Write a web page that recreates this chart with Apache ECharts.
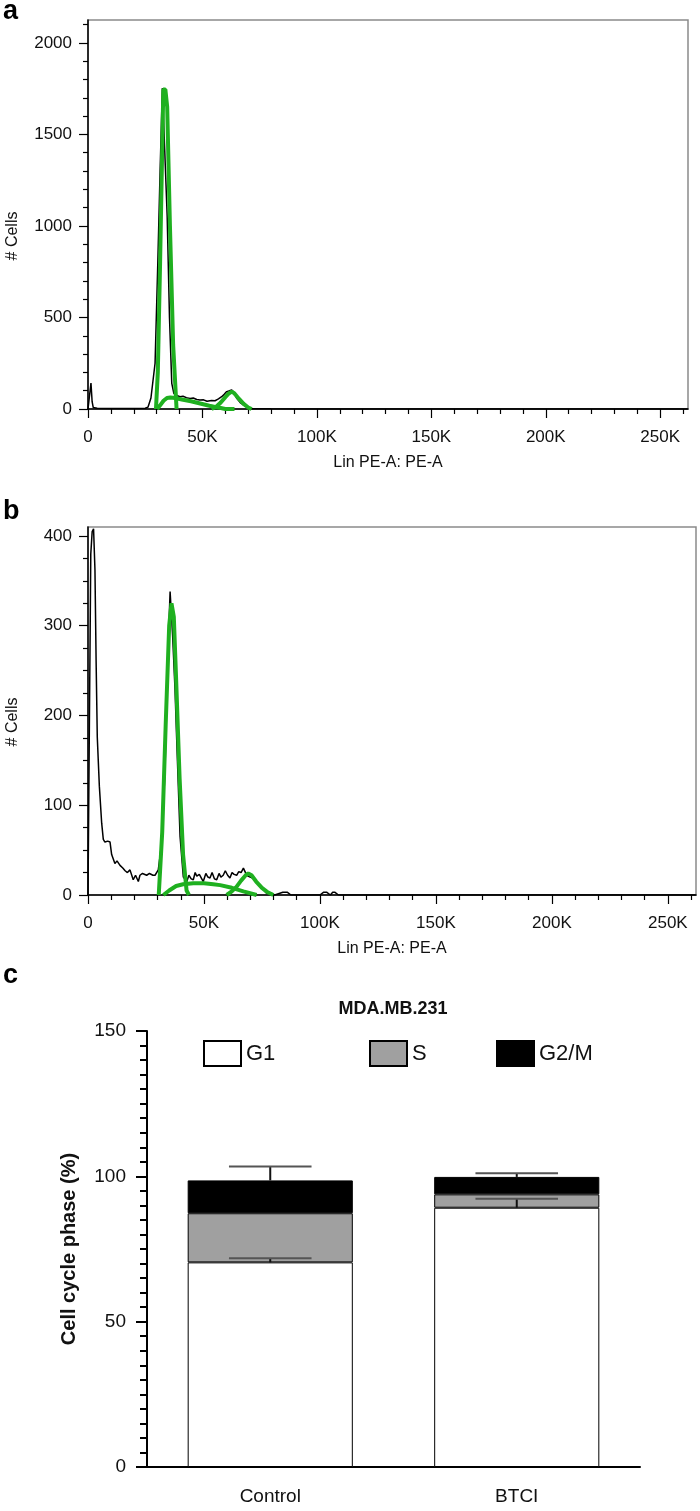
<!DOCTYPE html>
<html><head><meta charset="utf-8">
<script src="https://cdn.jsdelivr.net/npm/echarts@6/dist/echarts.min.js"></script>
<style>html,body{margin:0;padding:0;background:#fff}#c{width:700px;height:1511px}</style>
</head><body><div id="c"></div>
<script>
// ---------- Panel a (values in K for x) ----------
const aBlackX = [0,0.8,1.3,1.8,2.3,4,10,20,25,26.2,27.5,29.3,30.5,31.5,32.5,33.5,34.6,35.6,36.6,37.5,38.5,40.2,41.5,43,44.6,46,47.5,48.9,50.5,52,52.6,54,55.5,57,58.4,59.5,60.6,61.5,62.8,63.8,65,66.5,67.9,69.5,70.8,72,80,100,150,262];
const aBlackY = [0,0,142,40,8,4,3,3,4,10,60,250,800,1300,1754,1420,1050,500,140,85,76,67,70,62,58,60,52,49,50,42,40,46,45,55,67,80,95,98,104,90,58,35,22,10,4,2,1,0,0,0];
const aG1X = [29.7,30.5,31.5,32.9,33.8,34.6,35.8,37.2,38.7];
const aG1Y = [0,200,800,1745,1745,1650,1000,350,0];
const aSX = [30.2,31.5,33,34.5,36,38,41,45,49,53,56,58,60,64];
const aSY = [0,20,45,60,63,60,52,42,30,18,10,5,0,0];
const aG2X = [54,56,58,60,61.5,62.8,64,66,68,70,71.5];
const aG2Y = [0,12,35,65,85,95,85,55,28,8,0];

// ---------- Panel b ----------
const bBlackX = [0,0.8,1.2,1.8,2.4,3.0,3.5,4.0,4.9,5.9,6.6,7.3,8.5,9.5,10.2,11.6,12.5,13.8,15,16,17,18.1,19.5,20.5,21.7,22.4,23.5,25.3,26.5,28,28.9,30.3,31.8,33.2,34.2,35.4,36.5,37.5,38.2,39.7,41.1,42.6,43.5,44.5,45.4,46.2,46.9,48,49.7,50.8,51.7,52.6,53.5,54.5,55.5,56.5,57.3,58.3,59.2,60.2,61.2,62.1,63,64.1,65,66,67,67.7,68.4,69.2,69.9,71,72.7,74,75.6,77,79,80.5,84,86,87.5,100,101.5,103,104.5,105.5,106.5,108,262];
const bBlackY = [0,0,380,405,408,362,260,176,121,80,62,59,60,59,45,35,38,33,30,27,25,28,17,22,15,22,24,22,24,22,22,28,58,139,251,338,288,230,176,65,20,15,22,18,17,25,21,23,15,24,20,19,25,18,17,24,20,22,27,22,19,25,23,22,26,25,30,26,22,24,20,19,15,10,6,2,2,0,3,3,0,0,3,3,0,3,3,0,0];
const bG1X = [30.5,32,33.5,35,36,37,38,39.5,41,42.5,43.5];
const bG1Y = [0,70,190,300,325,310,240,130,45,5,0];
const bSX = [32.5,35,38,41,45.4,50,54,57,62,67,72.7];
const bSY = [0,5,10,12,13,13,12,11,8,4,0];
const bG2X = [59.8,62,64,66,68,69.1,70.5,72.5,75,77.5,79.9];
const bG2Y = [0,4,9,16,22,24,22,15,8,3,0];

// ---------- Ticks ----------
const xTicks = [0,50,100,150,200,250];
const xMinor = [10,20,30,40,60,70,80,90,110,120,130,140,160,170,180,190,210,220,230,240,260];
const aYTicks = [0,500,1000,1500,2000];
const aYMinor = [100,200,300,400,600,700,800,900,1100,1200,1300,1400,1600,1700,1800,1900,2100];
const bYTicks = [0,100,200,300,400];
const bYMinor = [25,50,75,125,150,175,225,250,275,325,350,375];

// ---------- Panel c ----------
const cats = ['Control','BTCI'];
const g1 = [70.4, 89.2];
const sPh = [16.9, 4.6];
const g2m = [11.3, 6.0];
const g1Err = [1.4, 3.1];
const g2mErr = [4.8, 1.3];

const FONT = '"Liberation Sans", Arial, Helvetica, sans-serif';
const zip = (xs, ys) => xs.map((x, i) => [x, ys[i]]);
const kfmt = v => v === 0 ? '0' : v + 'K';
const plain = v => String(v);

function histX(grid, max) {
  return [
    { gridIndex: grid, type: 'value', position: 'bottom', min: 0, max: max,
      axisLine: { show: true, onZero: false, lineStyle: { color: '#000', width: 1.5 } },
      axisTick: { show: true, length: 9, customValues: xTicks, lineStyle: { color: '#000', width: 1.2 } },
      axisLabel: { customValues: xTicks, formatter: kfmt, fontSize: 17, color: '#111', fontFamily: FONT, margin: 20 },
      splitLine: { show: false },
      name: 'Lin PE-A: PE-A', nameLocation: 'middle', nameGap: 46,
      nameTextStyle: { fontSize: 16, color: '#111', fontFamily: FONT } },
    { gridIndex: grid, type: 'value', position: 'bottom', min: 0, max: max,
      axisLine: { show: false },
      axisTick: { show: true, length: 5, customValues: xMinor, lineStyle: { color: '#000', width: 1.2 } },
      axisLabel: { show: false }, splitLine: { show: false } }
  ];
}
function histY(grid, max, ticks, minor) {
  return [
    { gridIndex: grid, type: 'value', position: 'left', min: 0, max: max,
      axisLine: { show: true, lineStyle: { color: '#000', width: 1.5 } },
      axisTick: { show: true, length: 9, customValues: ticks, lineStyle: { color: '#000', width: 1.2 } },
      axisLabel: { customValues: ticks, formatter: plain, fontSize: 17, color: '#111', fontFamily: FONT, margin: 16 },
      splitLine: { show: false } },
    { gridIndex: grid, type: 'value', position: 'left', min: 0, max: max,
      axisLine: { show: false },
      axisTick: { show: true, length: 5, customValues: minor, lineStyle: { color: '#000', width: 1.2 } },
      axisLabel: { show: false }, splitLine: { show: false } }
  ];
}
const lineS = (xi, yi, data, color, w, z) => ({
  type: 'line', xAxisIndex: xi, yAxisIndex: yi, data: data, symbol: 'none', showSymbol: false,
  lineStyle: { color: color, width: w }, itemStyle: { color: color }, clip: true, z: z, silent: true
});
const GREEN = '#1fb020';

const stackTop = g1.map((v, i) => v + sPh[i] + g2m[i]);
const errData = [];
cats.forEach((c, i) => { errData.push([i, g1[i], g1Err[i]]); });
cats.forEach((c, i) => { errData.push([i, stackTop[i], g2mErr[i]]); });

const legendBase = { itemWidth: 37, itemHeight: 25, selectedMode: false, icon: 'rect', top: 1035,
  textStyle: { fontSize: 22, color: '#111', fontFamily: FONT } };

const chart = echarts.init(document.getElementById('c'), null, { renderer: 'canvas' });
chart.setOption({
  animation: false,
  backgroundColor: '#fff',
  textStyle: { fontFamily: FONT },
  grid: [
    { left: 88, top: 20, width: 600, height: 389, show: true, borderColor: '#8a8a8a', borderWidth: 1.5, backgroundColor: 'transparent' },
    { left: 88, top: 527, width: 608, height: 368, show: true, borderColor: '#8a8a8a', borderWidth: 1.5, backgroundColor: 'transparent' },
    { left: 147, top: 1031, width: 493, height: 436 }
  ],
  xAxis: [
    ...histX(0, 262.144),
    ...histX(1, 262.144),
    { gridIndex: 2, type: 'category', data: cats,
      axisLine: { show: true, lineStyle: { color: '#000', width: 2 } },
      axisTick: { show: false },
      axisLabel: { fontSize: 19, color: '#111', fontFamily: FONT, margin: 20 } }
  ],
  yAxis: [
    ...histY(0, 2125, aYTicks, aYMinor),
    ...histY(1, 410, bYTicks, bYMinor),
    { gridIndex: 2, type: 'value', min: 0, max: 150, interval: 50,
      axisLine: { show: true, lineStyle: { color: '#000', width: 2 } },
      axisTick: { show: true, length: 11, lineStyle: { color: '#000', width: 2 } },
      minorTick: { show: true, splitNumber: 10, length: 7, lineStyle: { color: '#000', width: 2 } },
      axisLabel: { fontSize: 19, color: '#111', fontFamily: FONT, margin: 21 },
      splitLine: { show: false },
      name: 'Cell cycle phase (%)', nameLocation: 'middle', nameGap: 68, nameRotate: 90,
      nameTextStyle: { fontSize: 20, fontWeight: 'bold', color: '#111', fontFamily: FONT } }
  ],
  legend: [
    Object.assign({ data: ['G1'], left: 198 }, legendBase),
    Object.assign({ data: ['S'], left: 364 }, legendBase),
    Object.assign({ data: ['G2/M'], left: 491 }, legendBase)
  ],
  graphic: [
    { type: 'text', left: 3, top: -2, style: { text: 'a', font: 'bold 27px ' + FONT, fill: '#000' } },
    { type: 'text', left: 3, top: 498, style: { text: 'b', font: 'bold 27px ' + FONT, fill: '#000' } },
    { type: 'text', left: 3, top: 962, style: { text: 'c', font: 'bold 27px ' + FONT, fill: '#000' } },
    { type: 'text', x: 13, y: 236, rotation: Math.PI / 2, style: { text: '# Cells', font: '16px ' + FONT, fill: '#111', align: 'center', verticalAlign: 'middle' } },
    { type: 'text', x: 13, y: 722, rotation: Math.PI / 2, style: { text: '# Cells', font: '16px ' + FONT, fill: '#111', align: 'center', verticalAlign: 'middle' } },
    { type: 'text', x: 393, y: 1009, style: { text: 'MDA.MB.231', font: 'bold 18px ' + FONT, fill: '#111', align: 'center', verticalAlign: 'middle' } }
  ],
  series: [
    lineS(0, 0, zip(aBlackX, aBlackY), '#000', 1.5, 2),
    lineS(0, 0, zip(aSX, aSY), GREEN, 4, 3),
    lineS(0, 0, zip(aG2X, aG2Y), GREEN, 4, 3),
    lineS(0, 0, zip(aG1X, aG1Y), GREEN, 4, 3),
    lineS(2, 2, zip(bBlackX, bBlackY), '#000', 1.5, 2),
    lineS(2, 2, zip(bSX, bSY), GREEN, 4, 3),
    lineS(2, 2, zip(bG2X, bG2Y), GREEN, 4, 3),
    lineS(2, 2, zip(bG1X, bG1Y), GREEN, 4, 3),
    { name: 'G1', type: 'bar', stack: 'c', xAxisIndex: 4, yAxisIndex: 4, data: g1, barWidth: '67%',
      itemStyle: { color: '#ffffff', borderColor: '#000', borderWidth: 1 } },
    { name: 'S', type: 'bar', stack: 'c', xAxisIndex: 4, yAxisIndex: 4, data: sPh, barWidth: '67%',
      itemStyle: { color: '#a0a0a0', borderColor: '#000', borderWidth: 1 } },
    { name: 'G2/M', type: 'bar', stack: 'c', xAxisIndex: 4, yAxisIndex: 4, data: g2m, barWidth: '67%',
      itemStyle: { color: '#000000', borderColor: '#000', borderWidth: 1 } },
    { type: 'custom', xAxisIndex: 4, yAxisIndex: 4, z: 10, data: errData, silent: true,
      renderItem: function (params, api) {
        const i = api.value(0), base = api.value(1), err = api.value(2);
        const p0 = api.coord([i, base]);
        const p1 = api.coord([i, base + err]);
        const hw = api.size([1, 0])[0] * 0.67 * 0.25;
        return { type: 'group', children: [
          { type: 'line', shape: { x1: p0[0], y1: p0[1], x2: p1[0], y2: p1[1] }, style: { stroke: '#111', lineWidth: 2 } },
          { type: 'line', shape: { x1: p1[0] - hw, y1: p1[1], x2: p1[0] + hw, y2: p1[1] }, style: { stroke: '#555', lineWidth: 2 } }
        ] };
      } }
  ]
});
</script>
</body></html>
